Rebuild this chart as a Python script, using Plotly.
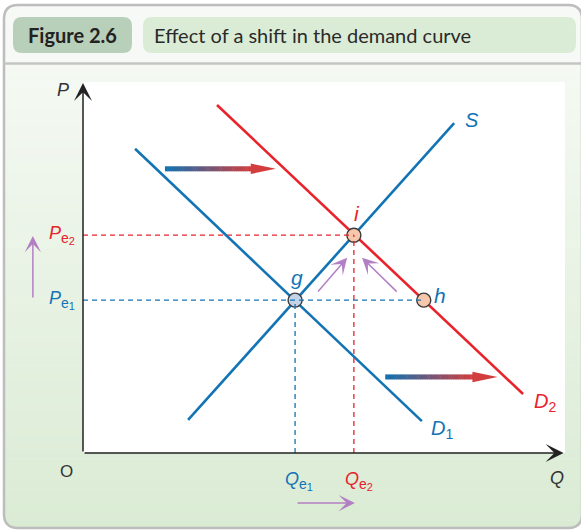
import plotly.graph_objects as go

# ---------------- data (economic units) ----------------
D1_Q = [1.08, 7.03]
D1_P = [8.20, 0.86]
D2_Q = [2.78, 9.13]
D2_P = [9.38, 1.59]
S_Q = [2.18, 7.70]
S_P = [0.89, 8.89]

point_names = ["g", "i", "h"]
point_Q = [4.40, 5.62, 7.07]
point_P = [4.12, 5.87, 4.12]

Qe1, Qe2 = 4.40, 5.62
Pe1, Pe2 = 4.12, 5.87

Q_MAX, P_MAX = 10.0, 10.0

BLUE = "#1374b5"
RED = "#e8232b"
PURPLE = "#b37fc4"
DARK = "#333333"

W, H = 581, 530
L, R, T, B = 83, 565, 82, 453  # plot-area pixel box
QPX = (R - L) / Q_MAX
PPX = (B - T) / P_MAX


def px(x):  # pixel -> paper x (frame decoration only)
    return (x - L) / (R - L)


def py(y):  # pixel -> paper y
    return (B - y) / (B - T)


fig = go.Figure()

# ---------------- frame decoration ----------------
shapes = []
r = 14
x0, x1, y0, y1 = 4, 582, 5, 528
shapes.append(dict(type="path", xref="paper", yref="paper", layer="below",
                   path=f"M {px(x0)},{py(63)} L {px(x0)},{py(y0+r)} Q {px(x0)},{py(y0)} {px(x0+r)},{py(y0)} "
                        f"L {px(x1-r)},{py(y0)} Q {px(x1)},{py(y0)} {px(x1)},{py(y0+r)} L {px(x1)},{py(63)} Z",
                   fillcolor="#f6f9f5", line=dict(width=0)))
nb = 60
top_c = (245, 249, 243)
bot_c = (218, 235, 212)
for k in range(nb):
    ya = 63 + (y1 - 63) * k / nb
    yb = 63 + (y1 - 63) * (k + 1) / nb + 0.6
    t = (k + 0.5) / nb
    c = tuple(int(round(top_c[j] + (bot_c[j] - top_c[j]) * t)) for j in range(3))
    shapes.append(dict(type="rect", xref="paper", yref="paper", layer="below",
                       x0=px(x0), x1=px(x1), y0=py(yb), y1=py(ya),
                       fillcolor=f"rgb{c}", line=dict(width=0)))
shapes.append(dict(type="path", xref="paper", yref="paper", layer="below",
                   path=f"M {px(-2)},{py(y1-r)} L {px(x0)},{py(y1-r)} Q {px(x0)},{py(y1)} {px(x0+r)},{py(y1)} "
                        f"L {px(x0+r)},{py(H+2)} L {px(-2)},{py(H+2)} Z",
                   fillcolor="white", line=dict(width=0)))
shapes.append(dict(type="path", xref="paper", yref="paper", layer="below",
                   path=f"M {px(W+2)},{py(y1-r)} L {px(x1)},{py(y1-r)} Q {px(x1)},{py(y1)} {px(x1-r)},{py(y1)} "
                        f"L {px(x1-r)},{py(H+2)} L {px(W+2)},{py(H+2)} Z",
                   fillcolor="white", line=dict(width=0)))
shapes.append(dict(type="path", xref="paper", yref="paper", layer="below",
                   path=f"M {px(x0+r)},{py(y0)} L {px(x1-r)},{py(y0)} Q {px(x1)},{py(y0)} {px(x1)},{py(y0+r)} "
                        f"L {px(x1)},{py(y1-r)} Q {px(x1)},{py(y1)} {px(x1-r)},{py(y1)} "
                        f"L {px(x0+r)},{py(y1)} Q {px(x0)},{py(y1)} {px(x0)},{py(y1-r)} "
                        f"L {px(x0)},{py(y0+r)} Q {px(x0)},{py(y0)} {px(x0+r)},{py(y0)} Z",
                   line=dict(color="#bdbdbd", width=2.5)))
shapes.append(dict(type="line", xref="paper", yref="paper", layer="below",
                   x0=px(x0), x1=px(x1), y0=py(63.5), y1=py(63.5),
                   line=dict(color="#c4c4c4", width=2.5)))
shapes.append(dict(type="rect", xref="paper", yref="paper", layer="below",
                   x0=0, x1=1, y0=0, y1=1, fillcolor="white", line=dict(width=0)))


def rrect(xa, xb, ya, yb, rr, color):
    return dict(type="path", xref="paper", yref="paper", layer="below",
                path=f"M {px(xa+rr)},{py(ya)} L {px(xb-rr)},{py(ya)} Q {px(xb)},{py(ya)} {px(xb)},{py(ya+rr)} "
                     f"L {px(xb)},{py(yb-rr)} Q {px(xb)},{py(yb)} {px(xb-rr)},{py(yb)} "
                     f"L {px(xa+rr)},{py(yb)} Q {px(xa)},{py(yb)} {px(xa)},{py(yb-rr)} "
                     f"L {px(xa)},{py(ya+rr)} Q {px(xa)},{py(ya)} {px(xa+rr)},{py(ya)} Z",
                fillcolor=color, line=dict(width=0))


shapes.append(rrect(13, 132, 17, 53, 9, "#b8cfba"))
shapes.append(rrect(143, 576, 17, 53, 9, "#dbecd6"))


# ---------------- gradient shift arrows ----------------
def grad_arrow(qa, qb, qtip, p, n=40):
    out = []
    c0 = (16, 112, 176)
    c1 = (210, 62, 62)
    for k in range(n):
        a = qa + (qb - qa) * k / n
        b = qa + (qb - qa) * (k + 1) / n + 0.01
        t = k / (n - 1)
        c = tuple(int(round(c0[j] + (c1[j] - c0[j]) * t)) for j in range(3))
        out.append(dict(type="line", xref="x", yref="y", x0=a, x1=b, y0=p, y1=p,
                        line=dict(color=f"rgb{c}", width=5)))
    hh = 0.14
    out.append(dict(type="path", xref="x", yref="y",
                    path=f"M {qb-0.02},{p-hh} L {qtip},{p} L {qb-0.02},{p+hh} Z",
                    fillcolor="rgb(210,62,62)", line=dict(width=0)))
    return out


shapes += grad_arrow(1.70, 3.50, 4.00, 7.66)
shapes += grad_arrow(6.27, 8.10, 8.60, 2.05)

# dashed guide lines
dash = "5px,4px"
shapes.append(dict(type="line", xref="x", yref="y", x0=0, x1=Qe2, y0=Pe2, y1=Pe2,
                   line=dict(color=RED, width=1.3, dash=dash)))
shapes.append(dict(type="line", xref="x", yref="y", x0=Qe2, x1=Qe2, y0=0, y1=Pe2,
                   line=dict(color=RED, width=1.3, dash=dash)))
shapes.append(dict(type="line", xref="x", yref="y", x0=0, x1=point_Q[2], y0=Pe1, y1=Pe1,
                   line=dict(color=BLUE, width=1.3, dash=dash)))
shapes.append(dict(type="line", xref="x", yref="y", x0=Qe1, x1=Qe1, y0=0, y1=Pe1,
                   line=dict(color=BLUE, width=1.3, dash=dash)))

# ---------------- curves ----------------
fig.add_trace(go.Scatter(x=D1_Q, y=D1_P, mode="lines", line=dict(color=BLUE, width=2.6),
                         hoverinfo="skip"))
fig.add_trace(go.Scatter(x=S_Q, y=S_P, mode="lines", line=dict(color=BLUE, width=2.6),
                         hoverinfo="skip"))
fig.add_trace(go.Scatter(x=D2_Q, y=D2_P, mode="lines", line=dict(color=RED, width=2.6),
                         hoverinfo="skip"))
fig.add_trace(go.Scatter(x=point_Q, y=point_P, mode="markers",
                         marker=dict(size=14, color=["#c3d3e8", "#f6c7ab", "#f6c7ab"],
                                     line=dict(color="#3a3a3a", width=1.4)),
                         hoverinfo="skip"))

# ---------------- annotations ----------------
ann = []
LF = "Liberation Sans"


def lab(q, p, text, color, size=19, xanchor="center", yanchor="middle"):
    # positions given in economic units, placed via paper fraction of the axes
    ann.append(dict(x=q / Q_MAX, y=p / P_MAX, xref="paper", yref="paper", text=text,
                    showarrow=False, font=dict(family=LF, size=size, color=color),
                    xanchor=xanchor, yanchor=yanchor))


def eq_label(sym, n):
    return (f"<i>{sym}</i><sub><span style='font-size:14px'>e</span>"
            f"<sub><span style='font-size:11px'>{n}</span></sub></sub>")


lab(8.07, 8.98, "<i>S</i>", BLUE, 20)
lab(7.45, 0.62, "<i>D</i><sub>1</sub>", BLUE, 20)
lab(9.59, 1.35, "<i>D</i><sub>2</sub>", RED, 20)
lab(4.44, 4.72, "<i>g</i>", BLUE, 21)
lab(5.68, 6.45, "<i>i</i>", RED, 21)
lab(7.41, 4.25, "<i>h</i>", BLUE, 21)
lab(-0.41, 9.78, "<i>P</i>", DARK, 18)
lab(9.83, -0.67, "<i>Q</i>", DARK, 18)
lab(-0.35, -0.51, "O", DARK, 17)
lab(-0.12, Pe2, eq_label("P", 2), RED, 18, xanchor="right")
lab(-0.12, Pe1, eq_label("P", 1), BLUE, 18, xanchor="right")
lab(Qe1 + 0.08, -0.75, eq_label("Q", 1), BLUE, 18)
lab(Qe2 + 0.1, -0.75, eq_label("Q", 2), RED, 18)


def arrow(qt, pt, qa, pa, color, width, size):
    ann.append(dict(x=qt / Q_MAX, y=pt / P_MAX, xref="paper", yref="paper",
                    ax=(qa - qt) * QPX, ay=-(pa - pt) * PPX, axref="pixel", ayref="pixel",
                    text="", showarrow=True, arrowhead=3, arrowsize=size, arrowwidth=width,
                    arrowcolor=color, standoff=0))


# axes with arrowheads
arrow(9.97, 0, 0, 0, "#222222", 1.5, 2.0)
arrow(0, 9.97, 0, 0, "#222222", 1.5, 2.0)
# purple movement arrows
arrow(5.48, 5.26, 4.85, 4.31, PURPLE, 1.5, 1.8)
arrow(5.79, 5.26, 6.54, 4.31, PURPLE, 1.5, 1.8)
arrow(-1.04, 5.85, -1.04, 4.15, PURPLE, 1.5, 1.8)
arrow(5.64, -1.35, 4.42, -1.35, PURPLE, 1.5, 1.8)

# title
ann.append(dict(x=px(72.5), y=py(35), xref="paper", yref="paper", text="<b>Figure 2.6</b>",
                showarrow=False, font=dict(family="Lato", size=20, color="#222222"),
                xanchor="center", yanchor="middle"))
ann.append(dict(x=px(152), y=py(35), xref="paper", yref="paper",
                text="Effect of a shift in the demand curve",
                showarrow=False, font=dict(family="Lato", size=20, color="#2a2a2a"),
                xanchor="left", yanchor="middle"))

fig.update_layout(
    width=W, height=H,
    margin=dict(l=L, r=W - R, t=T, b=H - B, pad=0),
    paper_bgcolor="white", plot_bgcolor="rgba(0,0,0,0)",
    showlegend=False,
    xaxis=dict(range=[0, Q_MAX], visible=False, fixedrange=True),
    yaxis=dict(range=[0, P_MAX], visible=False, fixedrange=True),
    shapes=shapes, annotations=ann,
)

fig.write_html("out.html", config={"displayModeBar": False},
               post_script="document.body.style.margin='0';document.body.style.overflow='hidden';")
